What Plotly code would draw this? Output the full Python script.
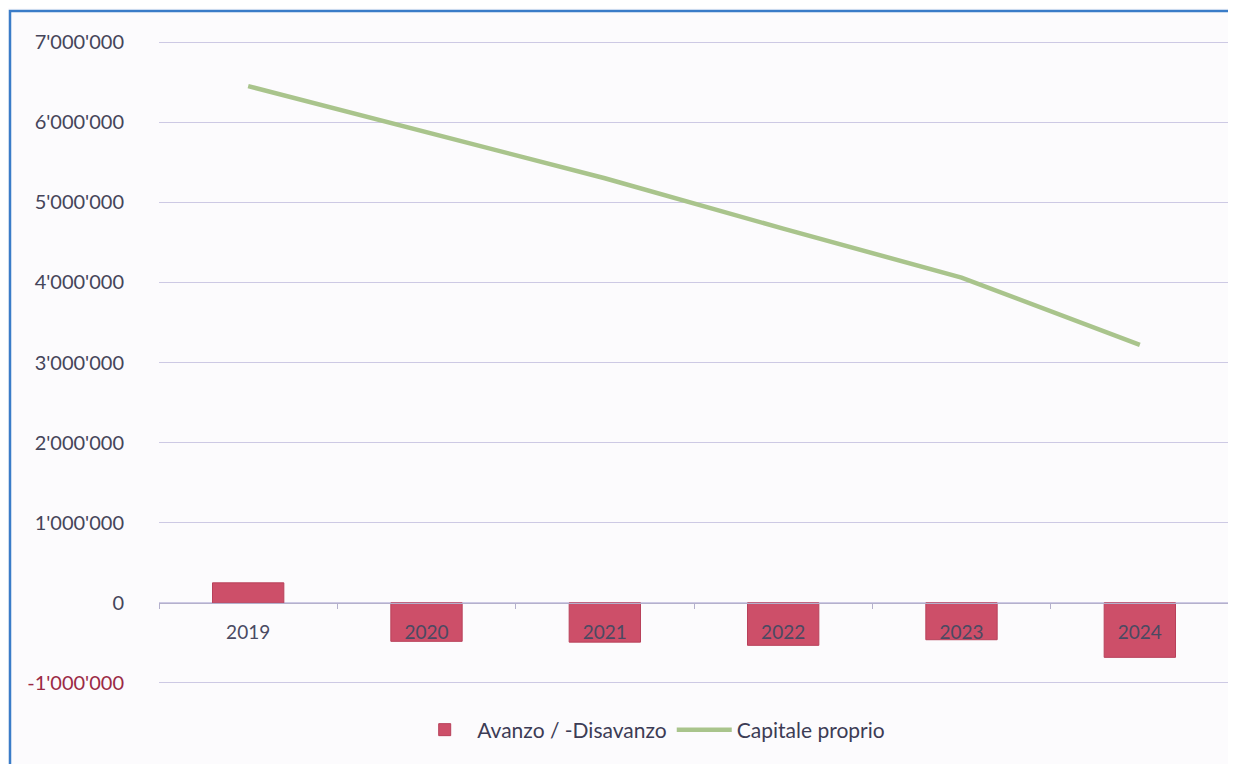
import plotly.graph_objects as go

years = ["2019", "2020", "2021", "2022", "2023", "2024"]
avanzo = [250000, -480000, -490000, -530000, -460000, -680000]
capitale = [6450000, 5870000, 5300000, 4670000, 4060000, 3220000]
y_ticks = [-1000000, 0, 1000000, 2000000, 3000000, 4000000, 5000000, 6000000, 7000000]
y_range = [-1050000, 7050000]


def fmt(v):
    s = f"{abs(v):,}".replace(",", "'")
    if v < 0:
        return f"<span style='color:#9b2a45'>-{s}</span>"
    return s


W, H = 1236, 764
OFF = 8  # page body margin
# plot area in page pixels
PL, PR, PT, PB = 159, 1229, 38, 687
ml, mr, mt, mb = PL - OFF, W - (PR - OFF), PT - OFF, H - (PB - OFF)
pw, ph = PR - PL, PB - PT


def px_x(p):
    return (p - PL) / pw


def px_y(p):
    return (PB - p) / ph


zero_pos = (0 - y_range[0]) / (y_range[1] - y_range[0])

fig = go.Figure()
fig.add_trace(go.Bar(
    x=years, y=avanzo, name="Avanzo / -Disavanzo",
    marker=dict(color="#cd4f69", line=dict(color="#b8405a", width=1)),
))
fig.add_trace(go.Scatter(
    x=years, y=capitale, name="Capitale proprio", mode="lines",
    line=dict(color="#a9c48c", width=4.5),
))

frame_path = "M {x0},{y0} L {x0},{y1} L {x2},{y1}".format(
    x0=px_x(10), y0=px_y(800), y1=px_y(11), x2=px_x(1260))

fig.update_layout(
    width=W, height=H,
    margin=dict(l=ml, r=mr, t=mt, b=mb),
    paper_bgcolor="#fcfbfd", plot_bgcolor="rgba(0,0,0,0)",
    font=dict(family="Lato, Open Sans, sans-serif", size=19, color="#45455a"),
    bargap=0.6,
    showlegend=True,
    legend=dict(orientation="h", x=0.46, xanchor="center", y=px_y(730), yanchor="middle",
                font=dict(size=21, color="#3c3c55"), itemwidth=55, traceorder="normal",
                bgcolor="rgba(0,0,0,0)"),
    xaxis=dict(
        type="category", anchor="free", position=zero_pos,
        showline=True, linecolor="#b4b0cc", linewidth=1,
        ticks="outside", tickson="boundaries", ticklen=5, tickcolor="#b4b0cc",
        ticklabelstandoff=12, showgrid=False, zeroline=False,
        tickfont=dict(size=19, color="#4a4a62"),
    ),
    yaxis=dict(
        range=y_range, tickvals=y_ticks, ticktext=[fmt(v) for v in y_ticks],
        showgrid=True, gridcolor="#cdc9e4", gridwidth=1, zeroline=False,
        ticks="", ticklabelstandoff=34, showline=False,
        tickfont=dict(size=20, color="#45455a"),
    ),
    shapes=[dict(type="path", xref="paper", yref="paper", path=frame_path,
                 line=dict(color="#3a7cc8", width=2.5), layer="below")],
)

fig.write_html("out.html")
